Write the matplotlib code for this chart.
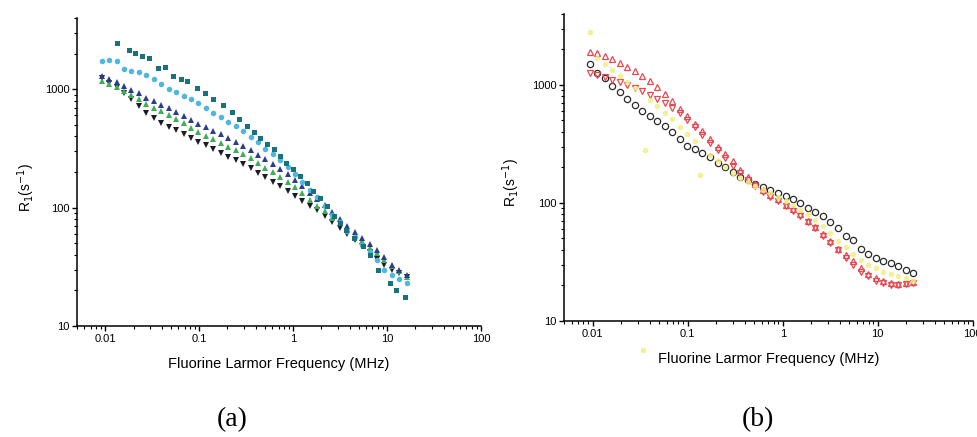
import matplotlib
matplotlib.use("Agg")
import matplotlib.pyplot as plt
from matplotlib.ticker import LogLocator, NullFormatter

plt.rcParams['font.family'] = ['Liberation Sans', 'DejaVu Sans']

# ---- panel (a) data ----
freq_a = [0.0092, 0.011, 0.0132, 0.0159, 0.019, 0.0228, 0.0274, 0.0329, 0.0395, 0.0474,
          0.0569, 0.0683, 0.082, 0.0984, 0.118, 0.142, 0.17, 0.204, 0.245, 0.294,
          0.353, 0.423, 0.508, 0.61, 0.732, 0.878, 1.05, 1.26, 1.52, 1.82,
          2.18, 2.62, 3.15, 3.77, 4.53, 5.44, 6.52, 7.83, 9.4, 11.3, 13.5, 16.2]
black_a = [1232, 1130, 1035, 920, 820, 720, 630, 570, 515, 480,
           450, 415, 385, 358, 335, 310, 290, 268, 250, 232,
           216, 196, 180, 166, 152, 138, 126, 114, 104, 95,
           85, 76, 67, 60, 53, 47, 42, 37, 33, 30, 28, 26]
green_a = [1180, 1110, 1040, 965, 890, 820, 750, 700, 650, 605,
           560, 515, 470, 435, 405, 378, 352, 328, 305, 282,
           260, 238, 215, 198, 180, 164, 148, 133, 117, 104,
           93, 82, 74, 66, 58, 52, 46, 41, 36, 32, 29, 26]
navy_a = [1290, 1220, 1140, 1060, 980, 920, 850, 800, 740, 690,
          640, 595, 550, 510, 478, 445, 415, 385, 360, 332,
          305, 277, 255, 235, 213, 192, 170, 152, 133, 118,
          105, 92, 80, 70, 62, 55, 49, 44, 38, 33, 30, 27]
sky_a = [1720, 1760, 1740, 1480, 1420, 1400, 1320, 1210, 1100, 1010,
         950, 880, 820, 760, 700, 634, 580, 530, 485, 440,
         395, 355, 315, 285, 252, 222, 192, 164, 142, 122,
         103, 87, 75, 64, 56, 48, 42, 36, 30, 27, 25, 23]
freq_teal = [0.0135, 0.0177, 0.0206, 0.0245, 0.0289, 0.0369, 0.0434, 0.0532, 0.0641, 0.0741,
             0.0945, 0.116, 0.142, 0.181, 0.222, 0.265, 0.322, 0.38, 0.443, 0.53,
             0.62, 0.73, 0.85, 1.0, 1.18, 1.4, 1.65, 1.95, 2.28, 2.7,
             3.2, 3.7, 4.5, 5.6, 6.6, 8.1, 10.7, 12.6, 15.6]
teal_a = [2440, 2150, 2006, 1900, 1820, 1506, 1545, 1281, 1230, 1176,
          1033, 937, 834, 732, 640, 560, 489, 435, 390, 345,
          310, 272, 239, 210, 184, 160, 137, 120, 103, 85,
          74, 65, 55, 47, 40, 30, 23, 20, 17.7]

# ---- panel (b) data ----
freq_b = [0.0093, 0.0112, 0.0134, 0.0161, 0.0193, 0.0231, 0.0278, 0.0333, 0.04, 0.048,
          0.0576, 0.0691, 0.0829, 0.0995, 0.119, 0.143, 0.172, 0.206, 0.248, 0.297,
          0.357, 0.428, 0.514, 0.616, 0.74, 0.888, 1.07, 1.28, 1.53, 1.84,
          2.21, 2.65, 3.18, 3.82, 4.58, 5.5, 6.6, 7.92, 9.5, 11.4,
          13.7, 16.4, 19.7, 23.6]
black_b = [1500, 1270, 1150, 980, 870, 765, 680, 600, 545, 490,
           445, 400, 350, 305, 285, 265, 245, 220, 200, 182,
           166, 155, 144, 136, 128, 121, 114, 107, 99, 91,
           84, 77, 69, 61, 53, 49, 41, 37, 34, 32,
           31, 29, 27, 25.5]
red_up_b = [1910, 1850, 1760, 1650, 1530, 1420, 1300, 1180, 1070, 955,
            840, 730, 630, 545, 470, 405, 350, 300, 262, 225,
            190, 166, 146, 130, 117, 107, 97, 89, 80, 70,
            62, 55, 48, 41, 36, 32, 28, 25, 23, 22,
            21, 20.5, 21, 21.5]
red_dn_b = [1270, 1220, 1160, 1110, 1050, 990, 935, 880, 820, 760,
            700, 640, 575, 505, 440, 380, 325, 280, 240, 205,
            178, 158, 138, 125, 113, 103, 94, 86, 78, 69,
            61, 53, 46, 40, 34, 30, 26, 24, 22, 21,
            20, 20, 20.5, 21]
freq_yel = [0.0093, 0.0112, 0.0134, 0.0161, 0.0193, 0.0231, 0.0278, 0.0336, 0.0353, 0.04,
            0.048, 0.0576, 0.0691, 0.0829, 0.0995, 0.119, 0.134, 0.172, 0.206, 0.248,
            0.297, 0.357, 0.428, 0.514, 0.616, 0.74, 0.888, 1.07, 1.28, 1.53,
            1.84, 2.21, 2.65, 3.18, 3.82, 4.58, 5.5, 6.6, 7.92, 9.5,
            11.4, 13.7, 16.4, 19.7, 23.6]
yellow_b = [2830, 1700, 1500, 1350, 1200, 1060, 940, 5.7, 281, 750,
            660, 580, 510, 440, 385, 335, 173, 255, 225, 200,
            178, 162, 150, 140, 130, 121, 112, 104, 96, 88,
            80, 72, 64, 56, 48, 42, 37, 33, 30, 28,
            26, 25, 24, 23, 22]

xticks = [0.01, 0.1, 1, 10, 100]
xticklabels = ['0.01', '0.1', '1', '10', '100']
yticks = [10, 100, 1000]
yticklabels = ['10', '100', '1000']

fig = plt.figure(figsize=(9.78, 4.37), dpi=100)
ax1 = fig.add_axes([0.0787, 0.254, 0.413, 0.705])
ax2 = fig.add_axes([0.5767, 0.2654, 0.418, 0.703])


def style(ax, lx, ly):
    ax.set_xscale('log')
    ax.set_yscale('log')
    ax.set_xlim(0.005, 100)
    ax.set_ylim(10, 4000)
    ax.set_xticks(xticks)
    ax.set_xticklabels(xticklabels)
    ax.set_yticks(yticks)
    ax.set_yticklabels(yticklabels)
    ax.xaxis.set_minor_locator(LogLocator(base=10, subs=range(2, 10), numticks=20))
    ax.yaxis.set_minor_locator(LogLocator(base=10, subs=range(2, 10), numticks=20))
    ax.xaxis.set_minor_formatter(NullFormatter())
    ax.yaxis.set_minor_formatter(NullFormatter())
    for s in ['top', 'right']:
        ax.spines[s].set_visible(False)
    for s in ['left', 'bottom']:
        ax.spines[s].set_linewidth(1.1)
    ax.tick_params(which='major', direction='out', length=3.5, width=1, labelsize=8, pad=2)
    ax.tick_params(which='minor', direction='out', length=2, width=0.8)
    ax.set_xlabel('Fluorine Larmor Frequency (MHz)', fontsize=10.5)
    ax.set_ylabel(r'R$_1$(s$^{-1}$)', fontsize=10)
    ax.xaxis.set_label_coords(0.5, lx)
    ax.yaxis.set_label_coords(ly, 0.45)


style(ax1, -0.10, -0.10)
style(ax2, -0.10, -0.103)

# panel (a)
ax1.plot(freq_a, black_a, 'v', color='#1c1c24', ms=4.8, mew=0)
ax1.plot(freq_a, green_a, '^', color='#3fae55', ms=4.8, mew=0)
ax1.plot(freq_a, navy_a, '^', color='#2b3d8c', ms=4.8, mew=0)
ax1.plot(freq_a, sky_a, 'o', color='#4fb6de', ms=4, mew=0)
ax1.plot(freq_teal, teal_a, 's', color='#17727e', ms=3.6, mew=0)

# panel (b)
ax2.plot(freq_b, black_b, 'o', mfc='none', mec='#2a2a2a', ms=4.5, mew=0.9)
ax2.plot(freq_b, red_dn_b, 'v', mfc='none', mec='#e8474f', ms=5, mew=0.9)
ax2.plot(freq_b, red_up_b, '^', mfc='none', mec='#e8474f', ms=5, mew=0.9)
ax2.plot(freq_yel, yellow_b, 'o', color='#f2ee84', ms=4, mew=0, alpha=0.85, clip_on=False)

fig.text(232 / 978, 1 - 420 / 437, '(a)', family='Liberation Serif', fontsize=20,
         ha='center', va='center')
fig.text(758 / 978, 1 - 420 / 437, '(b)', family='Liberation Serif', fontsize=20,
         ha='center', va='center')

fig.savefig('out.png', dpi=100)
